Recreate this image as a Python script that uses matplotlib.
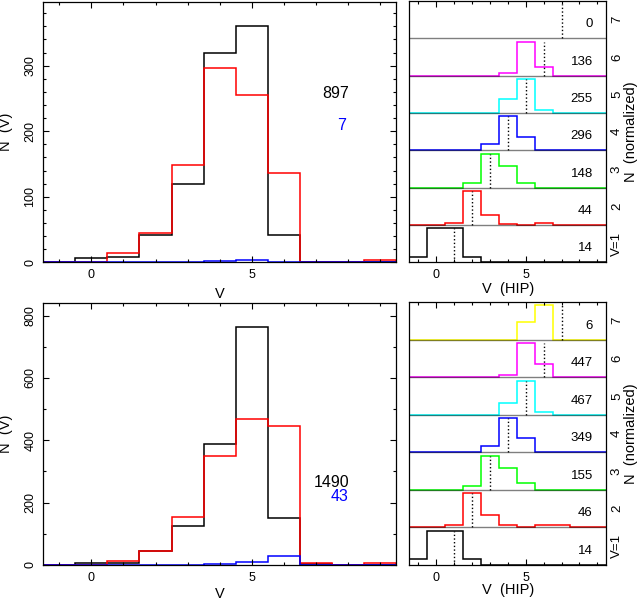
import numpy as np
import matplotlib
matplotlib.use("Agg")
import matplotlib.pyplot as plt

plt.rcParams['font.family'] = ['Liberation Sans', 'DejaVu Sans']

# bins of width 1 centred on V = -1 .. 9
bordas = np.arange(-1.5, 10.0, 1.0)

# left panels: N(V) per bin
preto_sup = [0, 7, 8, 42, 119, 319, 361, 41, 0, 0, 0]
verm_sup = [0, 0, 14, 44, 148, 296, 255, 136, 0, 0, 4]
azul_sup = [0, 0, 0, 0, 0, 2, 4, 1, 0, 0, 0]

preto_inf = [0, 6, 8, 45, 125, 388, 763, 152, 3, 0, 0]
verm_inf = [0, 0, 14, 46, 155, 349, 467, 447, 6, 1, 5]
azul_inf = [0, 0, 0, 0, 0, 4, 9, 28, 1, 0, 1]

# right panels: V(HIP) counts for stars of each V = 1..7
tiras_sup = [
    [1, 6, 6, 1, 0, 0, 0, 0, 0, 0, 0],
    [0, 0, 2, 30, 9, 1, 0, 2, 0, 0, 0],
    [0, 0, 0, 10, 77, 50, 11, 0, 0, 0, 0],
    [0, 0, 0, 0, 35, 186, 75, 0, 0, 0, 0],
    [0, 0, 0, 0, 0, 70, 171, 14, 0, 0, 0],
    [0, 0, 0, 0, 0, 7, 102, 27, 0, 0, 0],
    [0, 0, 0, 0, 0, 0, 0, 0, 0, 0, 0],
]
tiras_inf = [
    [1, 6, 6, 1, 0, 0, 0, 0, 0, 0, 0],
    [0, 0, 2, 28, 10, 2, 0, 2, 2, 0, 0],
    [0, 0, 0, 10, 79, 50, 16, 0, 0, 0, 0],
    [0, 0, 0, 2, 38, 219, 90, 0, 0, 0, 0],
    [0, 0, 0, 0, 0, 112, 329, 26, 0, 0, 0],
    [0, 0, 0, 0, 0, 16, 312, 119, 0, 0, 0],
    [0, 0, 0, 0, 0, 0, 2, 4, 0, 0, 0],
]
cores_tiras = ["black", "red", "#00ff00", "blue", "cyan", "magenta", "yellow"]
rotulos_tiras = ["V=1", "2", "3", "4", "5", "6", "7"]

W, H = 637, 602


def caixa(x0, x1, y0, y1):
    return [x0 / W, 1 - y1 / H, (x1 - x0) / W, (y1 - y0) / H]


def eixo_x(ax):
    ax.set_xlim(-1.5, 9.5)
    ax.set_xticks([0, 5])
    ax.set_xticks(np.arange(-1, 10, 1), minor=True)
    ax.tick_params(which='both', direction='in', top=True, labelsize=9, pad=5)
    ax.tick_params(which='major', length=4.3, width=0.8)
    ax.tick_params(which='minor', length=2.4, width=0.8)
    for s in ax.spines.values():
        s.set_linewidth(0.9)


def painel_esq(ax, preto, verm, azul, ymaj, ymin, txt, ylab_x):
    for vals, cor in ((preto, "black"), (verm, "red"), (azul, "blue")):
        ax.stairs(vals, bordas, baseline=0, color=cor, lw=1.1)
    eixo_x(ax)
    ax.set_ylim(0, 1.1 * max(preto))
    ax.set_yticks(np.arange(0, 1.1 * max(preto), ymaj))
    ax.set_yticks(np.arange(0, 1.1 * max(preto), ymin), minor=True)
    ax.tick_params(axis='y', which='both', right=True, labelrotation=90)
    for t in ax.get_yticklabels():
        t.set_va('center')
    ax.set_xlabel("V", fontsize=10.5)
    ax.xaxis.set_label_coords(0.5, ylab_x)
    ax.set_ylabel("N  (V)", fontsize=10.5)
    ax.yaxis.set_label_coords(-0.085, 0.5)
    ax.text(txt[0], txt[1], str(sum(preto)), ha='center', va='center',
            fontsize=11.5, color='black')
    ax.text(txt[2], txt[3], str(sum(azul)), ha='center', va='center',
            fontsize=11.5, color='blue')


def painel_dir(ax, tiras, ylab_x):
    h = 1.1
    for i, vals in enumerate(tiras):
        base = i * h
        n = sum(vals)
        if n > 0:
            norm = np.array(vals) / max(vals)
            ax.stairs(norm + base, bordas, baseline=base, color=cores_tiras[i], lw=1.1)
        if i > 0:
            ax.axhline(base, color='black', lw=1.0, alpha=0.5)
        ax.plot([i + 1, i + 1], [base, base + 1.0], ls=':', color='black', lw=1.0)
        ax.text(8.75, base + 0.41, str(n), ha='right', va='center', fontsize=9.5)
        ax.text(1.054, (i + 0.5) / 7, rotulos_tiras[i], transform=ax.transAxes,
                rotation=90, ha='center', va='center', fontsize=9.5)
    eixo_x(ax)
    ax.set_ylim(0, 7 * h)
    ax.set_yticks([])
    ax.set_xlabel("V  (HIP)", fontsize=10.5)
    ax.xaxis.set_label_coords(0.5, ylab_x)
    ax.text(1.125, 0.5, "N  (normalized)", transform=ax.transAxes,
            rotation=90, ha='center', va='center', fontsize=10.5)


fig = plt.figure(figsize=(W / 100, H / 100), dpi=100)
ax1 = fig.add_axes(caixa(43.3, 396, 2, 262.3))
ax2 = fig.add_axes(caixa(409.3, 606.3, 1, 262.3))
ax3 = fig.add_axes(caixa(43.3, 396, 303.3, 565))
ax4 = fig.add_axes(caixa(409.3, 606.3, 302, 565))

painel_esq(ax1, preto_sup, verm_sup, azul_sup, 100, 20, (7.62, 257, 7.8, 209), -0.095)
painel_esq(ax3, preto_inf, verm_inf, azul_inf, 200, 100, (7.48, 265, 7.74, 219), -0.085)
painel_dir(ax2, tiras_sup, -0.075)
painel_dir(ax4, tiras_inf, -0.07)

fig.savefig("out.png", dpi=100)
